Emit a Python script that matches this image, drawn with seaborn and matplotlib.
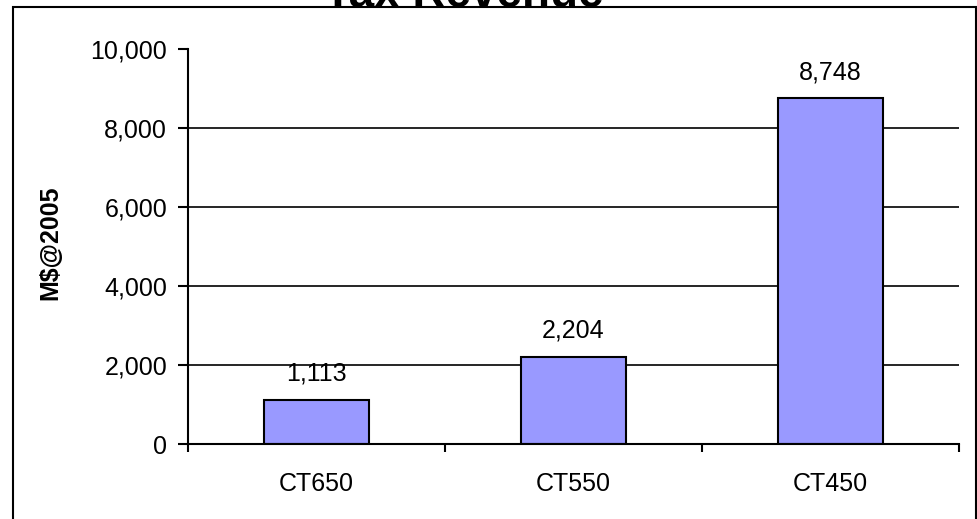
import matplotlib
matplotlib.use("Agg")
import matplotlib.pyplot as plt
import matplotlib.patches as mpatches
from matplotlib.ticker import FuncFormatter, FixedLocator
import seaborn as sns
import pandas as pd

categories = ["CT650", "CT550", "CT450"]
values = [1113, 2204, 8748]
yticks = [0, 2000, 4000, 6000, 8000, 10000]
title = "Tax Revenue"
ylabel = "M$@2005"

sns.set_theme(style="white")
plt.rcParams['font.family'] = ['Liberation Sans', 'DejaVu Sans']

df = pd.DataFrame({"scenario": categories, "value": values})

fig = plt.figure(figsize=(9.78, 5.19), dpi=100)
ax = fig.add_axes([188/978, 1-444/519, (959-188)/978, (444-49)/519])

sns.barplot(data=df, x="scenario", y="value", ax=ax, color="#9999FF",
            edgecolor="black", linewidth=1.5, width=0.405, saturation=1, zorder=3)

ax.set_xlim(-0.5, 2.5)
ax.set_ylim(0, 10000)
ax.set_yticks(yticks)
ax.yaxis.set_major_formatter(FuncFormatter(lambda v, p: f"{int(v):,}"))
ax.grid(axis="y", color="black", linewidth=1.2, zorder=0)
ax.set_axisbelow(True)
for gl, t in zip(ax.get_ygridlines(), yticks):
    if t in (0, 10000):
        gl.set_visible(False)

for s in ("top", "right"):
    ax.spines[s].set_visible(False)
for s in ("left", "bottom"):
    ax.spines[s].set_color("black")
    ax.spines[s].set_linewidth(1.5)
    ax.spines[s].set_zorder(4)

ax.tick_params(axis="y", which="major", direction="out", length=7, width=1.5,
               color="black", pad=8, labelsize=18, left=True)
ax.xaxis.set_minor_locator(FixedLocator([-0.5, 0.5, 1.5, 2.5]))
ax.tick_params(axis="x", which="minor", direction="out", length=6, width=1.5,
               color="black", bottom=True)
ax.tick_params(axis="x", which="major", length=0, pad=20, labelsize=18)
for lab in ax.get_xticklabels() + ax.get_yticklabels():
    lab.set_color("black")

ax.set_xlabel("")
ax.set_ylabel(ylabel, fontsize=18, fontweight="bold", color="black")
ax.yaxis.set_label_coords(-0.163, 0.51)

for i, v in enumerate(values):
    ax.annotate(f"{v:,}", xy=(i, v), xytext=(0, 14), textcoords="offset points",
                ha="center", va="baseline", fontsize=18, color="black")

border = mpatches.Rectangle((13/978, -0.1), (976-13)/978, 1.1 - 7/519,
                            transform=fig.transFigure, fill=False,
                            edgecolor="black", linewidth=1.5, clip_on=False, zorder=1)
fig.patches.append(border)

fig.text(464/978, 1-7/519, title, ha="center", va="baseline", fontsize=33,
         fontweight="bold", color="black", zorder=5)

fig.savefig("out.png", dpi=100)
